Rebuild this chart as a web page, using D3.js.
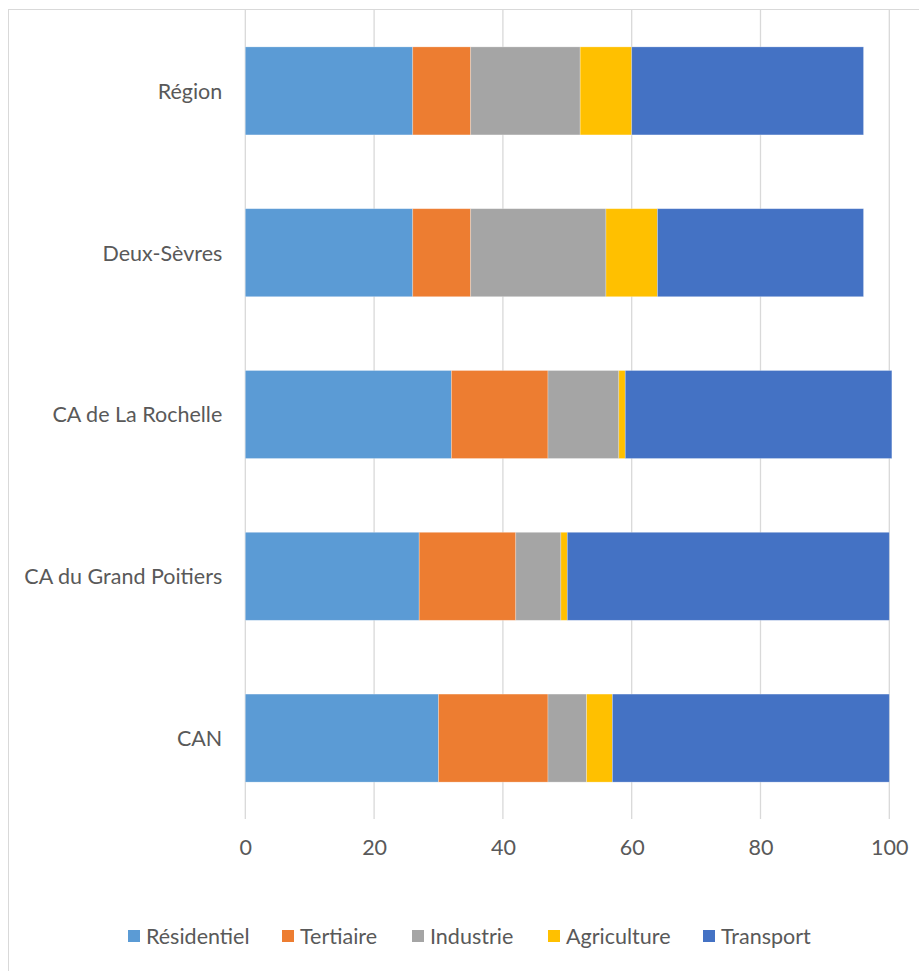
<!DOCTYPE html>
<html>
<head>
<meta charset="utf-8">
<script src="https://cdn.jsdelivr.net/npm/d3@7"></script>
<style>
  html, body { margin: 0; padding: 0; background: #fff; }
  svg { display: block; }
  text { font-family: Lato, "Open Sans", sans-serif; fill: #595959; }
</style>
</head>
<body>
<script>
// Consumption share by sector (%) per territory
const categories = ["Région", "Deux-Sèvres", "CA de La Rochelle", "CA du Grand Poitiers", "CAN"];
const seriesNames = ["Résidentiel", "Tertiaire", "Industrie", "Agriculture", "Transport"];
const colors = ["#5B9BD5", "#ED7D31", "#A5A5A5", "#FFC000", "#4472C4"];
const residentiel = [26, 26, 32, 27, 30];
const tertiaire   = [9, 9, 15, 15, 17];
const industrie   = [17, 21, 11, 7, 6];
const agriculture = [8, 8, 1, 1, 4];
const transport   = [36, 32, 41.4, 50, 43];
const xTicks = [0, 20, 40, 60, 80, 100];

const seriesValues = [residentiel, tertiaire, industrie, agriculture, transport];
const rows = categories.map((c, i) => {
  const r = { cat: c };
  seriesNames.forEach((s, j) => r[s] = seriesValues[j][i]);
  return r;
});

const W = 919, H = 971;
const plot = { left: 245.3, right: 889.3, top: 10, bottom: 819 };
const FONT = "21.5px";

const svg = d3.select("body").append("svg").attr("width", W).attr("height", H);

// Chart frame
svg.append("rect")
  .attr("x", 8.5).attr("y", 9.5)
  .attr("width", W + 10).attr("height", H + 10)
  .attr("fill", "none").attr("stroke", "#d9d9d9").attr("stroke-width", 1);

const x = d3.scaleLinear().domain([0, 100]).range([plot.left, plot.right]);
const y = d3.scaleBand().domain(categories).range([plot.top, plot.bottom]).paddingInner(0.456).paddingOuter(0.228);

// Vertical gridlines
svg.append("g").selectAll("line").data(xTicks).join("line")
  .attr("x1", d => x(d)).attr("x2", d => x(d))
  .attr("y1", plot.top).attr("y2", plot.bottom)
  .attr("stroke", "#d9d9d9").attr("stroke-width", 1.3);

// Stacked bars
const stacked = d3.stack().keys(seriesNames)(rows);
svg.append("g").selectAll("g").data(stacked).join("g")
  .attr("fill", (d, i) => colors[i])
  .selectAll("rect").data(d => d).join("rect")
  .attr("x", d => x(d[0]))
  .attr("width", d => x(d[1]) - x(d[0]))
  .attr("y", d => y(d.data.cat))
  .attr("height", y.bandwidth())
  .attr("stroke", "#fff").attr("stroke-opacity", 0.35).attr("stroke-width", 0.75);

// Category axis labels
const yAxis = svg.append("g")
  .attr("transform", `translate(${plot.left},1)`)
  .call(d3.axisLeft(y).tickSize(0).tickPadding(23));
yAxis.select(".domain").remove();
yAxis.selectAll("text").style("font-size", FONT).attr("fill", "#595959")
  .style("font-family", "Lato, 'Open Sans', sans-serif");

// Value axis labels
const xAxis = svg.append("g")
  .attr("transform", `translate(0,${plot.bottom})`)
  .call(d3.axisBottom(x).tickValues(xTicks).tickSize(0).tickPadding(21));
xAxis.select(".domain").remove();
xAxis.selectAll("text").style("font-size", FONT).attr("fill", "#595959")
  .style("font-family", "Lato, 'Open Sans', sans-serif");

// Legend
const legendX = [128, 282, 412, 548, 703];
const legend = svg.append("g").selectAll("g").data(seriesNames).join("g")
  .attr("transform", (d, i) => `translate(${legendX[i]},936)`);
legend.append("rect").attr("x", 0).attr("y", -6).attr("width", 12).attr("height", 12)
  .attr("fill", (d, i) => colors[i]);
legend.append("text").attr("x", 18).attr("y", 0).attr("dy", "0.35em")
  .style("font-size", FONT).text(d => d);
</script>
</body>
</html>
